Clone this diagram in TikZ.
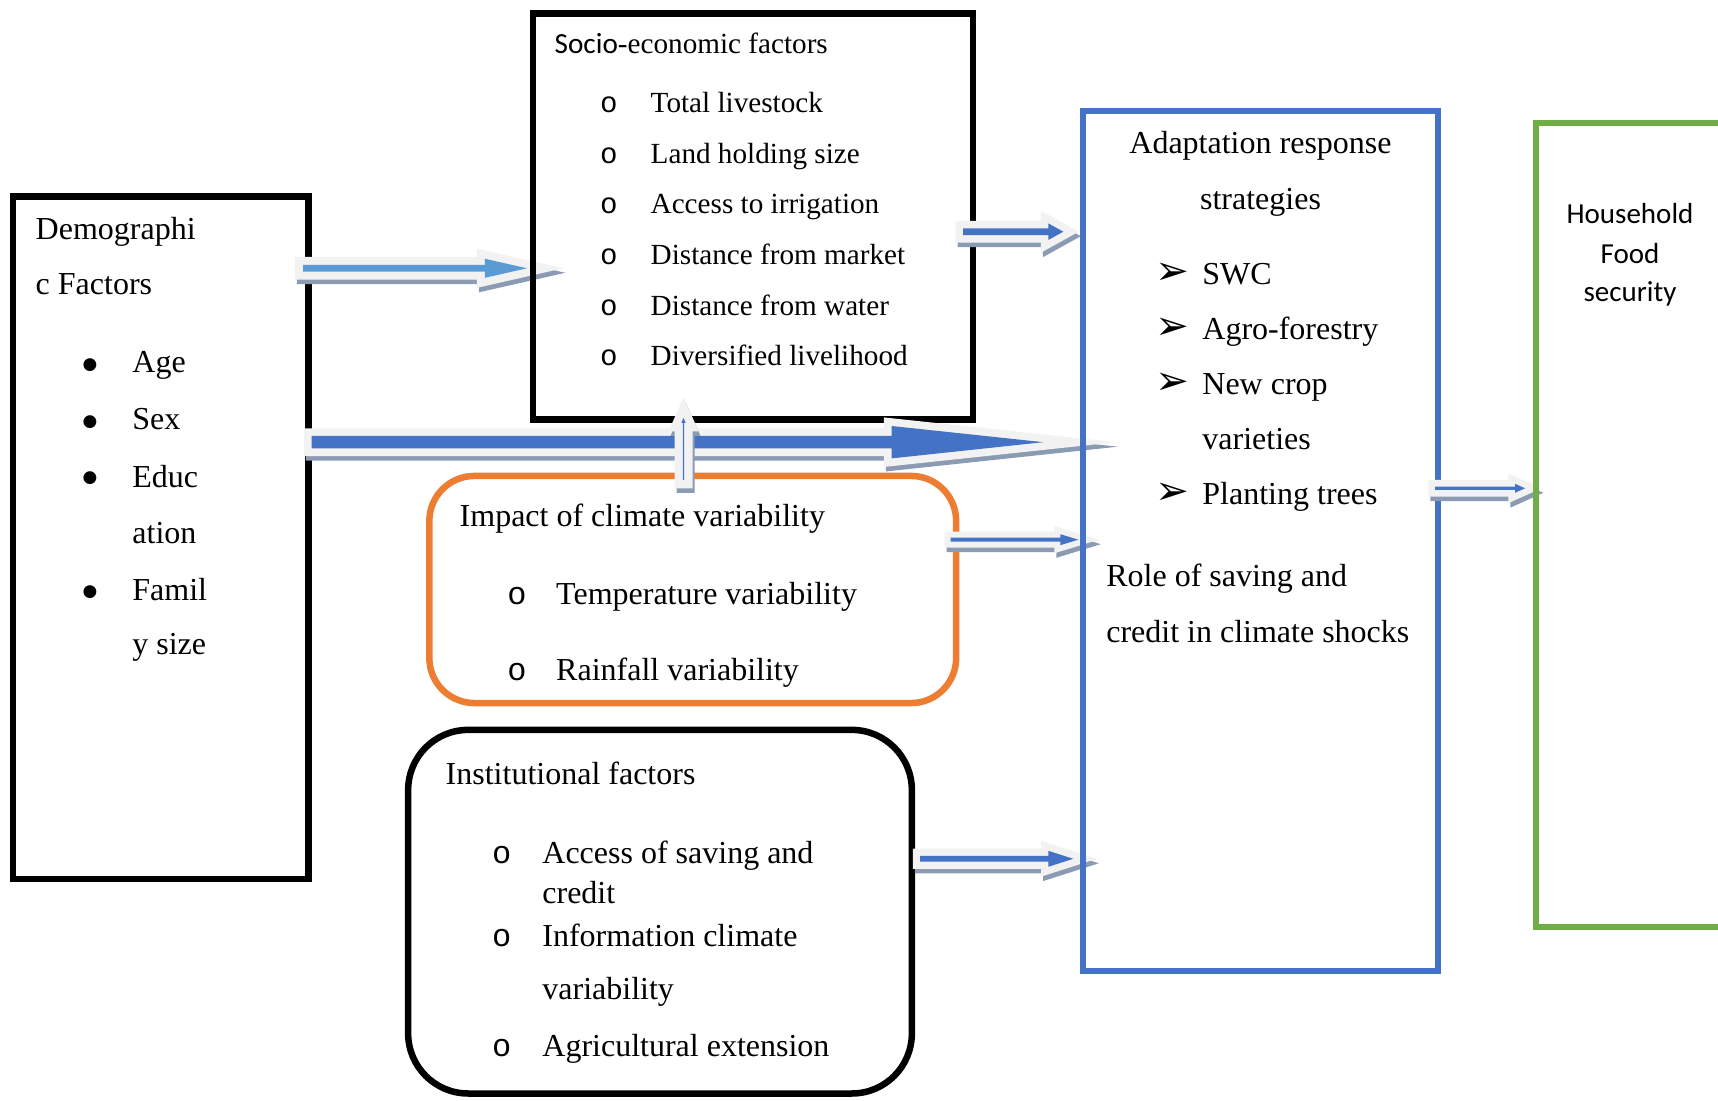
\documentclass[tikz,border=0pt]{standalone}
\usepackage{fontspec}
\setmainfont{Liberation Serif}
\newfontfamily\calibrifont{Carlito}
\newfontfamily\courierfont{Liberation Mono}
\newfontfamily\dingfont{DejaVu Sans}
\usetikzlibrary{calc}
\definecolor{boxblue}{HTML}{4472C4}
\definecolor{boxgreen}{HTML}{70AD47}
\definecolor{boxorange}{HTML}{ED7D31}
\definecolor{arrowblue}{HTML}{4472C4}
\definecolor{arrowlight}{HTML}{5B9BD5}
\definecolor{rimgray}{HTML}{F2F2F2}
\definecolor{arrshade}{HTML}{8C9BB4}
\newcommand{\bodysize}{\fontsize{9.1}{11}\selectfont}
\newcommand{\socsize}{\fontsize{8.3}{10}\selectfont}
\tikzset{
  arrshadow/.style={fill=arrshade,draw=arrshade,line join=miter,miter limit=25,transform canvas={shift={(2,4.5)}}},
  arrrim/.style={fill=rimgray,draw=rimgray,line join=miter,miter limit=25},
  arrblue/.style={fill=arrowblue},
  arrlight/.style={fill=arrowlight}
}
% block arrow: from, to, shaft half width, head half width, head length, rim, fill
\newcommand{\fatarrow}[7]{%
  \coordinate (fa-base) at ($(#2)!#5!(#1)$);
  \foreach \lay in {arrshadow,arrrim,#7}
    \path[\lay,line width=#6] ($(#1)!#3!90:(#2)$) -- ($(fa-base)!#3!90:(#2)$) -- ($(fa-base)!#4!90:(#2)$) -- (#2)
      -- ($(fa-base)!#4!-90:(#2)$) -- ($(fa-base)!#3!-90:(#2)$) -- ($(#1)!#3!-90:(#2)$) -- cycle;
}
\begin{document}
\begin{tikzpicture}[x=0.01cm,y=-0.01cm]
\tikzstyle{frame}=[draw,line width=0.065cm,inner sep=0pt]
\tikzstyle{txt}=[anchor=base west,inner sep=0pt,font=\bodysize]
\tikzstyle{stxt}=[txt,font=\socsize]
\tikzstyle{mid}=[anchor=base,inner sep=0pt,font=\bodysize]
\tikzstyle{blob}=[anchor=center,inner sep=0pt,font=\dingfont\fontsize{4.8}{6}\selectfont]
\tikzstyle{sdot}=[anchor=base,inner sep=0pt,font=\courierfont\socsize]
\tikzstyle{dot}=[anchor=base,inner sep=0pt,font=\courierfont\bodysize]
\tikzstyle{tip}=[anchor=base west,inner sep=0pt,font=\dingfont\fontsize{11.5}{12}\selectfont]
\tikzstyle{cal}=[anchor=base,inner sep=0pt,font=\calibrifont\fontsize{8.25}{10}\selectfont]
\clip (0,0) rectangle (1718,1101);
\fill[white] (0,0) rectangle (1718,1101);

% boxes on the left
\node[frame,minimum width=2.95cm,minimum height=6.823cm] (demo) at (160.8,537.85) {};
\node[frame,draw=boxorange,rounded corners=0.45cm,minimum width=5.265cm,minimum height=2.27cm] (impact) at (692.75,589.5) {};
\node[frame,rounded corners=0.6cm,minimum width=5.034cm,minimum height=3.634cm] (inst) at (660,911.7) {};

\coordinate (a1s) at (303,268.3); \coordinate (a1e) at (527,268.3);
\fatarrow{a1s}{a1e}{0.034cm}{0.095cm}{0.42cm}{0.16cm}{arrlight}
\node[frame,minimum width=4.40cm,minimum height=4.06cm] (socio) at (753,216.5) {};

% arrows into the adaptation box
\coordinate (a2s) at (963,231.7); \coordinate (a2e) at (1063.3,231.7);
\fatarrow{a2s}{a2e}{0.034cm}{0.083cm}{0.15cm}{0.15cm}{arrblue}
\coordinate (a3s) at (311.7,442.2); \coordinate (a3e) at (1043.3,442.2);
\fatarrow{a3s}{a3e}{0.062cm}{0.162cm}{1.517cm}{0.154cm}{arrblue}
\coordinate (a5s) at (950.7,539.7); \coordinate (a5e) at (1078.3,539.7);
\fatarrow{a5s}{a5e}{0.02cm}{0.055cm}{0.18cm}{0.12cm}{arrblue}
\coordinate (a6s) at (920,858.8); \coordinate (a6e) at (1073.3,858.8);
\fatarrow{a6s}{a6e}{0.029cm}{0.08cm}{0.25cm}{0.143cm}{arrblue}
\node[frame,draw=boxblue,line width=0.06cm,minimum width=3.542cm,minimum height=8.595cm] (adapt) at (1260.4,541.25) {};

\coordinate (a7s) at (1435,488.3); \coordinate (a7e) at (1525,488.3);
\fatarrow{a7s}{a7e}{0.017cm}{0.045cm}{0.10cm}{0.134cm}{arrblue}
\node[frame,draw=boxgreen,line width=0.06cm,minimum width=2.44cm,minimum height=8.033cm] (food) at (1658,525.35) {};

% impact up to socio-economic
\coordinate (a4s) at (683.5,480); \coordinate (a4e) at (683.5,418);
\fatarrow{a4s}{a4e}{0.007cm}{0.022cm}{0.05cm}{0.166cm}{arrblue}

% demographic
\node[txt] (dem1) at (35,239.3) {Demographi};
\node[txt] (dem2) at (35,295) {c Factors};
\node[blob] (demb1) at (90,365) {●};
\node[blob] (demb2) at (90,421.7) {●};
\node[blob] (demb3) at (90,478.3) {●};
\node[blob] (demb4) at (90,591.7) {●};
\node[txt] (age) at (131.7,372.7) {Age};
\node[txt] (sex) at (131.7,430) {Sex};
\node[txt] (edu1) at (131.7,487.3) {Educ};
\node[txt] (edu2) at (131.7,543.3) {ation};
\node[txt] (fam1) at (131.7,600.7) {Famil};
\node[txt] (fam2) at (131.7,655) {y size};

% socio-economic
\node[stxt] (soctitle) at (554,53.3) {{\calibrifont Socio}-economic factors};
\foreach \t [count=\i] in {Total livestock,Land holding size,Access to irrigation,Distance from market,Distance from water,Diversified livelihood}{
  \node[sdot] (socb\i) at (609,{112.7+50.6*(\i-1)}) {o};
  \node[stxt] (soc\i) at (650,{112.7+50.6*(\i-1)}) {\t};
}

% impact of climate variability
\node[txt] (imptitle) at (459,527) {Impact of climate variability};
\node[dot] (impb1) at (517,605) {o};
\node[txt] (imp1) at (555.5,605) {Temperature variability};
\node[dot] (impb2) at (517,680.6) {o};
\node[txt] (imp2) at (555.5,680.6) {Rainfall variability};

% institutional
\node[txt] (insttitle) at (445,785) {Institutional factors};
\node[dot] (instb1) at (501.7,863.3) {o};
\node[txt] (inst1a) at (541.7,863.3) {Access of saving and};
\node[txt] (inst1b) at (541.7,904) {credit};
\node[dot] (instb2) at (501.7,946.7) {o};
\node[txt] (inst2a) at (541.7,946.7) {Information climate};
\node[txt] (inst2b) at (541.7,1000) {variability};
\node[dot] (instb3) at (501.7,1056.7) {o};
\node[txt] (inst3) at (541.7,1056.7) {Agricultural extension};

% adaptation
\node[mid] (adtitle1) at (1260.5,153.5) {Adaptation response};
\node[mid] (adtitle2) at (1260.5,209.5) {strategies};
\node[tip] (adb1) at (1155,285) {➢};
\node[txt] (ad1) at (1201.7,285) {SWC};
\node[tip] (adb2) at (1155,340) {➢};
\node[txt] (ad2) at (1201.7,340) {Agro-forestry};
\node[tip] (adb3) at (1155,395) {➢};
\node[txt] (ad3a) at (1201.7,395) {New crop};
\node[txt] (ad3b) at (1201.7,450) {varieties};
\node[tip] (adb4) at (1155,505) {➢};
\node[txt] (ad4) at (1201.7,505) {Planting trees};
\node[txt] (role1) at (1105.6,587) {Role of saving and};
\node[txt] (role2) at (1105.6,643) {credit in climate shocks};

% household food security
\node[cal] (food1) at (1630,224) {Household};
\node[cal] (food2) at (1630,263.3) {Food};
\node[cal] (food3) at (1630,301.7) {security};
\end{tikzpicture}
\end{document}
